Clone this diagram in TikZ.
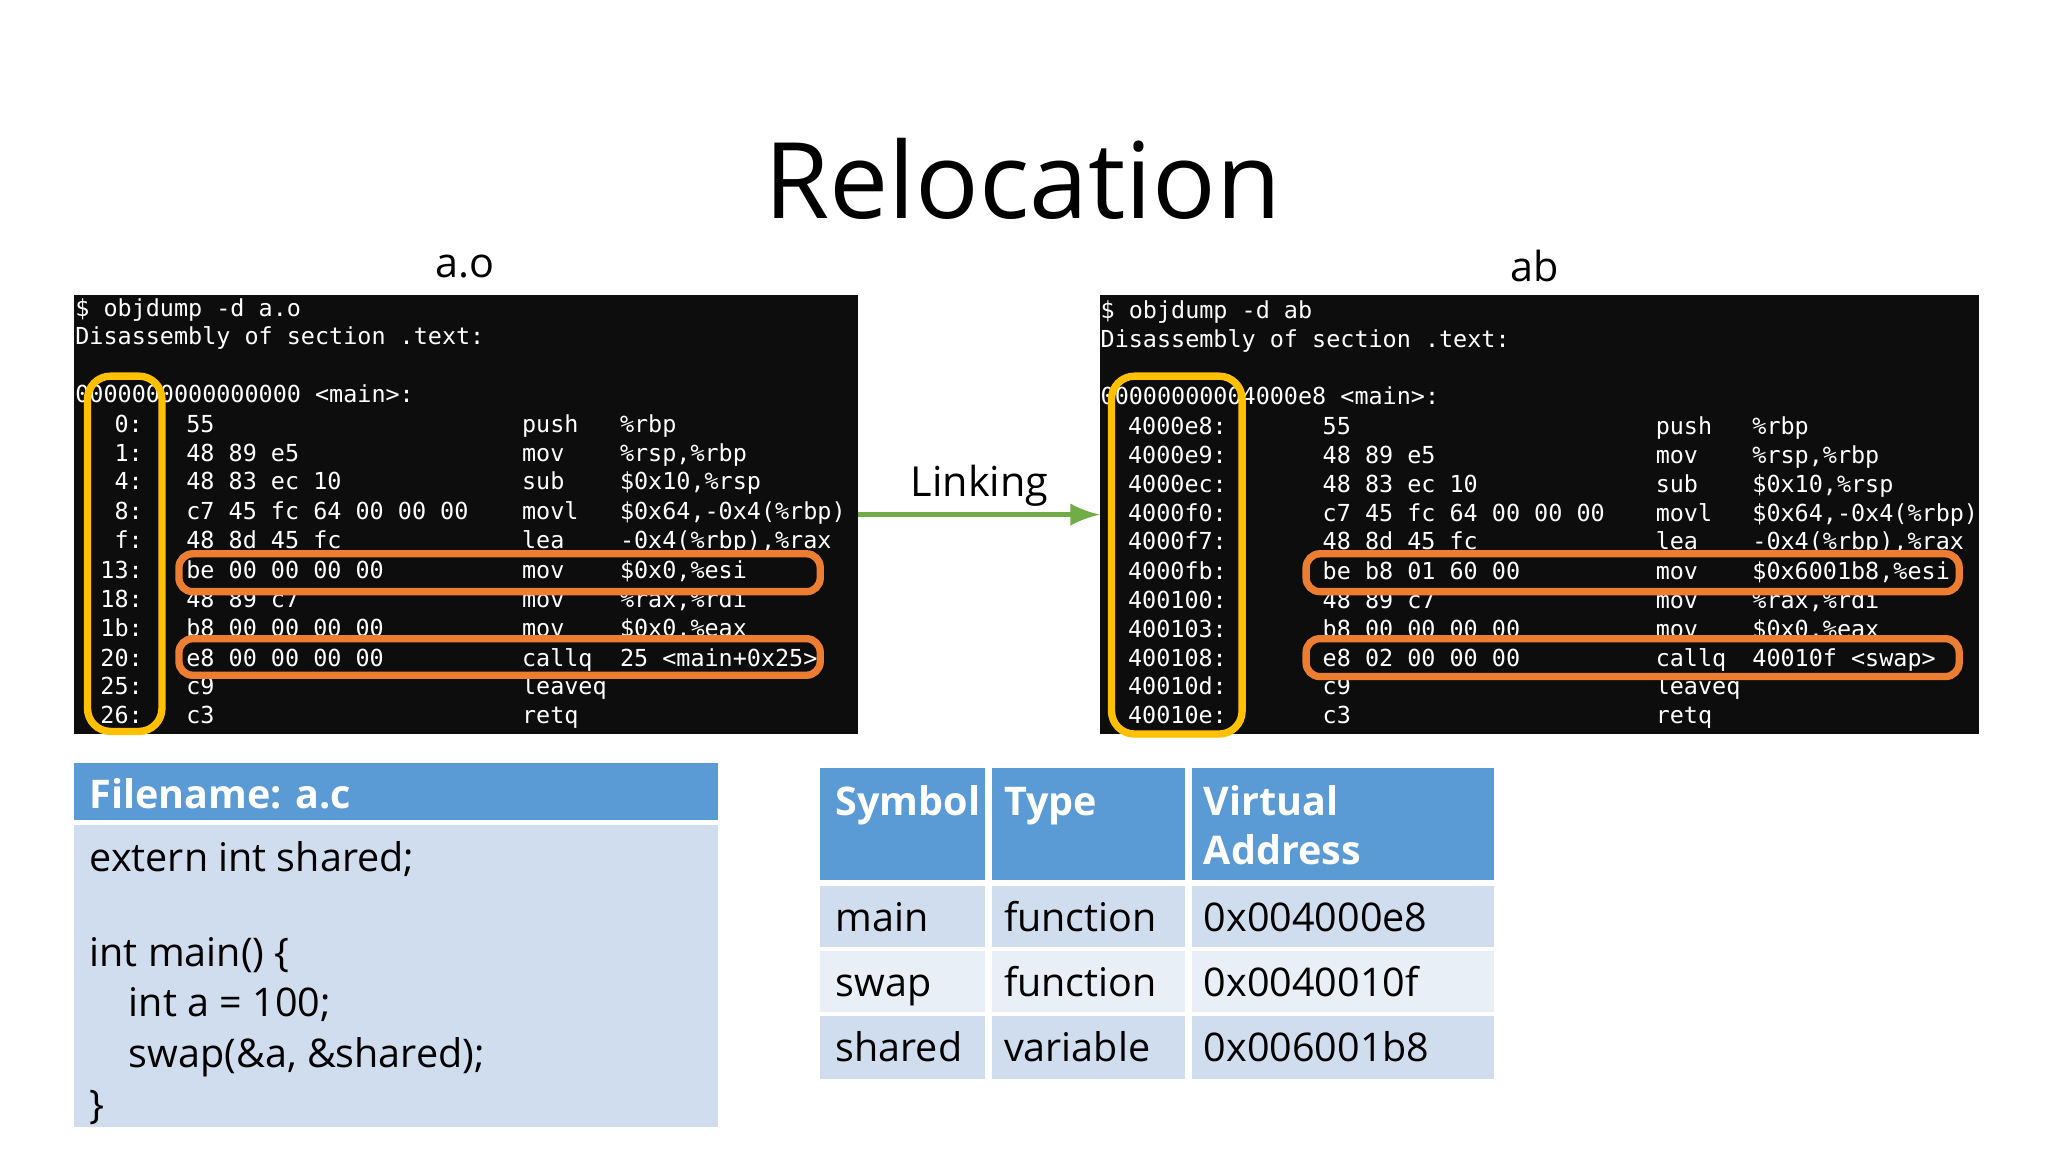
\documentclass[tikz,border=0pt]{standalone}
\usepackage{fontspec}
\setmainfont{Open Sans}
\newfontfamily\mono{DejaVu Sans Mono}
\definecolor{orng}{HTML}{ED7D31}
\definecolor{yel}{HTML}{FFC000}
\definecolor{hdr}{HTML}{5B9BD5}
\definecolor{cellA}{HTML}{CFDDEE}
\definecolor{cellB}{HTML}{E9EFF7}
\definecolor{grn}{HTML}{70AD47}
\tikzset{
 term/.style={font=\mono\fontsize{5.1}{6}\selectfont,text=white,inner sep=0pt,anchor=base west},
 terme/.style={term,anchor=base east},
 obox/.style={draw=orng,line width=1.6pt,rounded corners=3pt},
 ybox/.style={draw=yel,line width=1.6pt,rounded corners=5pt},
 body/.style={font=\fontsize{8.6}{10}\selectfont,inner sep=0pt,anchor=base west},
 cell/.style={font=\fontsize{8.6}{10}\selectfont,inner sep=0pt,anchor=base west},
 hcell/.style={font=\bfseries\fontsize{8.6}{10}\selectfont,text=white,inner sep=0pt,anchor=base west,align=left},
}
\newcommand\Lline[5]{%
 \node[terme] at (110,#1) {#2};
 \node[term] at (142,#1) {#3};
 \node[term] at (399,#1) {#4};
 \node[term] at (474,#1) {#5};}
\newcommand\Rline[5]{%
 \node[term] at (863,#1) {#2};
 \node[term] at (1012,#1) {#3};
 \node[term] at (1267,#1) {#4};
 \node[term] at (1341,#1) {#5};}
\begin{document}
\begin{tikzpicture}[x=0.01cm,y=-0.01cm]
\useasboundingbox[fill=white] (0,0) rectangle (1568,882);
\node[font=\fontsize{23}{26}\selectfont] (title) at (783,137) {Relocation};
\node[font=\fontsize{9}{10}\selectfont] (lab1) at (356,204) {a.o};
\node[font=\fontsize{9}{10}\selectfont] (lab2) at (1175,204) {ab};
% terminals
\fill[black!95] (57,226) rectangle (657,562);
\fill[black!95] (842,226) rectangle (1515,562);
\node[term] at (57,242) {\$ objdump -d a.o};
\node[term] at (57,264) {Disassembly of section .text:};
\node[term] at (57,308) {0000000000000000 <main>:};
\Lline{331}{0:}{55}{push}{\%rbp}
\Lline{353}{1:}{48 89 e5}{mov}{\%rsp,\%rbp}
\Lline{375}{4:}{48 83 ec 10}{sub}{\$0x10,\%rsp}
\Lline{398}{8:}{c7 45 fc 64 00 00 00}{movl}{\$0x64,-0x4(\%rbp)}
\Lline{420}{f:}{48 8d 45 fc}{lea}{-0x4(\%rbp),\%rax}
\Lline{443}{13:}{be 00 00 00 00}{mov}{\$0x0,\%esi}
\Lline{465}{18:}{48 89 c7}{mov}{\%rax,\%rdi}
\Lline{487}{1b:}{b8 00 00 00 00}{mov}{\$0x0,\%eax}
\Lline{510}{20:}{e8 00 00 00 00}{callq}{25 <main+0x25>}
\Lline{532}{25:}{c9}{leaveq}{}
\Lline{554}{26:}{c3}{retq}{}
\node[term] at (842,244) {\$ objdump -d ab};
\node[term] at (842,266) {Disassembly of section .text:};
\node[term] at (842,310) {00000000004000e8 <main>:};
\Rline{333}{4000e8:}{55}{push}{\%rbp}
\Rline{355}{4000e9:}{48 89 e5}{mov}{\%rsp,\%rbp}
\Rline{377}{4000ec:}{48 83 ec 10}{sub}{\$0x10,\%rsp}
\Rline{399}{4000f0:}{c7 45 fc 64 00 00 00}{movl}{\$0x64,-0x4(\%rbp)}
\Rline{421}{4000f7:}{48 8d 45 fc}{lea}{-0x4(\%rbp),\%rax}
\Rline{444}{4000fb:}{be b8 01 60 00}{mov}{\$0x6001b8,\%esi}
\Rline{466}{400100:}{48 89 c7}{mov}{\%rax,\%rdi}
\Rline{488}{400103:}{b8 00 00 00 00}{mov}{\$0x0,\%eax}
\Rline{510}{400108:}{e8 02 00 00 00}{callq}{40010f <swap>}
\Rline{532}{40010d:}{c9}{leaveq}{}
\Rline{554}{40010e:}{c3}{retq}{}
% highlight boxes
\draw[ybox] (67,288) rectangle (124,560);
\draw[obox] (137,424) rectangle (628,453);
\draw[obox] (137,489) rectangle (628,517);
\draw[ybox] (851,288) rectangle (951,562);
\draw[obox] (1000,424) rectangle (1500,453);
\draw[obox] (1000,489) rectangle (1500,518);
% linking arrow
\coordinate (a1) at (657,394);
\coordinate (a2) at (842,394);
\draw[grn,line width=1.2pt,-latex] (a1) -- (a2);
\node[font=\fontsize{9}{10}\selectfont] (lk) at (750,372) {Linking};
% filename box
\fill[hdr] (57,584) rectangle (550,628);
\fill[cellA] (57,632) rectangle (550,863);
\node[hcell] at (68,619) {Filename: a.c};
\node[body] at (68,667) {extern int shared;};
\node[body] at (68,740) {int main() \{};
\node[body] at (98,778) {int a = 100;};
\node[body] at (98,817) {swap(\&a, \&shared);};
\node[body] at (68,856) {\}};
% table
\fill[hdr] (628,588) rectangle (1144,674);
\fill[cellA] (628,678) rectangle (1144,725);
\fill[cellB] (628,728) rectangle (1144,775);
\fill[cellA] (628,778) rectangle (1144,826);
\draw[white,line width=1.5pt] (757,588) -- (757,826) (910,588) -- (910,826);
\node[hcell] at (639,624) {Symbol};
\node[hcell] at (768,624) {Type};
\node[hcell] at (921,624) {Virtual};
\node[hcell] at (921,662) {Address};
\node[cell] at (639,713) {main};
\node[cell] at (768,713) {function};
\node[cell] at (921,713) {0x004000e8};
\node[cell] at (639,763) {swap};
\node[cell] at (768,763) {function};
\node[cell] at (921,763) {0x0040010f};
\node[cell] at (639,813) {shared};
\node[cell] at (768,813) {variable};
\node[cell] at (921,813) {0x006001b8};
\end{tikzpicture}
\end{document}
